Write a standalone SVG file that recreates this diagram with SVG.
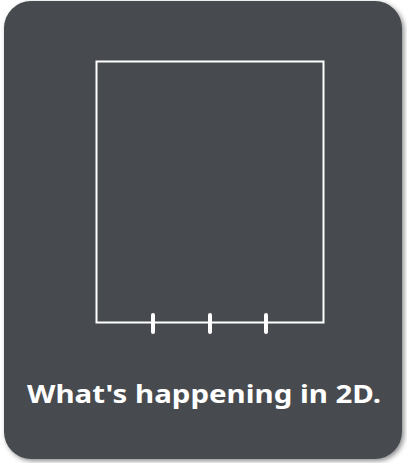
<svg xmlns="http://www.w3.org/2000/svg" width="407" height="463" viewBox="0 0 407 463">
  <defs>
    <filter id="shadow" x="-10%" y="-10%" width="120%" height="120%">
      <feDropShadow dx="2" dy="2" stdDeviation="2.5" flood-color="#000" flood-opacity="0.45"/>
    </filter>
  </defs>
  <style>
    .card { fill: #464c4f; }
    .box { fill: none; stroke: #ffffff; stroke-width: 2; }
    .tick { stroke: #ffffff; stroke-width: 4; stroke-linecap: round; }
    .label { fill: #ffffff; font-family: "Comic Sans MS", "Noto Sans", "Liberation Sans", sans-serif; font-size: 25px; font-weight: bold; }
  </style>
  <rect width="407" height="463" fill="#ffffff"/>
  <g id="card">
    <rect class="card" x="4" y="1" width="398" height="458" rx="27" ry="27" filter="url(#shadow)"/>
  </g>
  <g id="square">
    <rect class="box" x="96.5" y="61.5" width="227" height="261"/>
  </g>
  <g id="ticks">
    <line class="tick" x1="153" y1="315" x2="153" y2="332"/>
    <line class="tick" x1="210" y1="315" x2="210" y2="332"/>
    <line class="tick" x1="266" y1="315" x2="266" y2="332"/>
  </g>
  <g id="caption">
    <text class="label" x="204" y="403" text-anchor="middle" textLength="354" lengthAdjust="spacingAndGlyphs">What's happening in 2D.</text>
  </g>
</svg>
